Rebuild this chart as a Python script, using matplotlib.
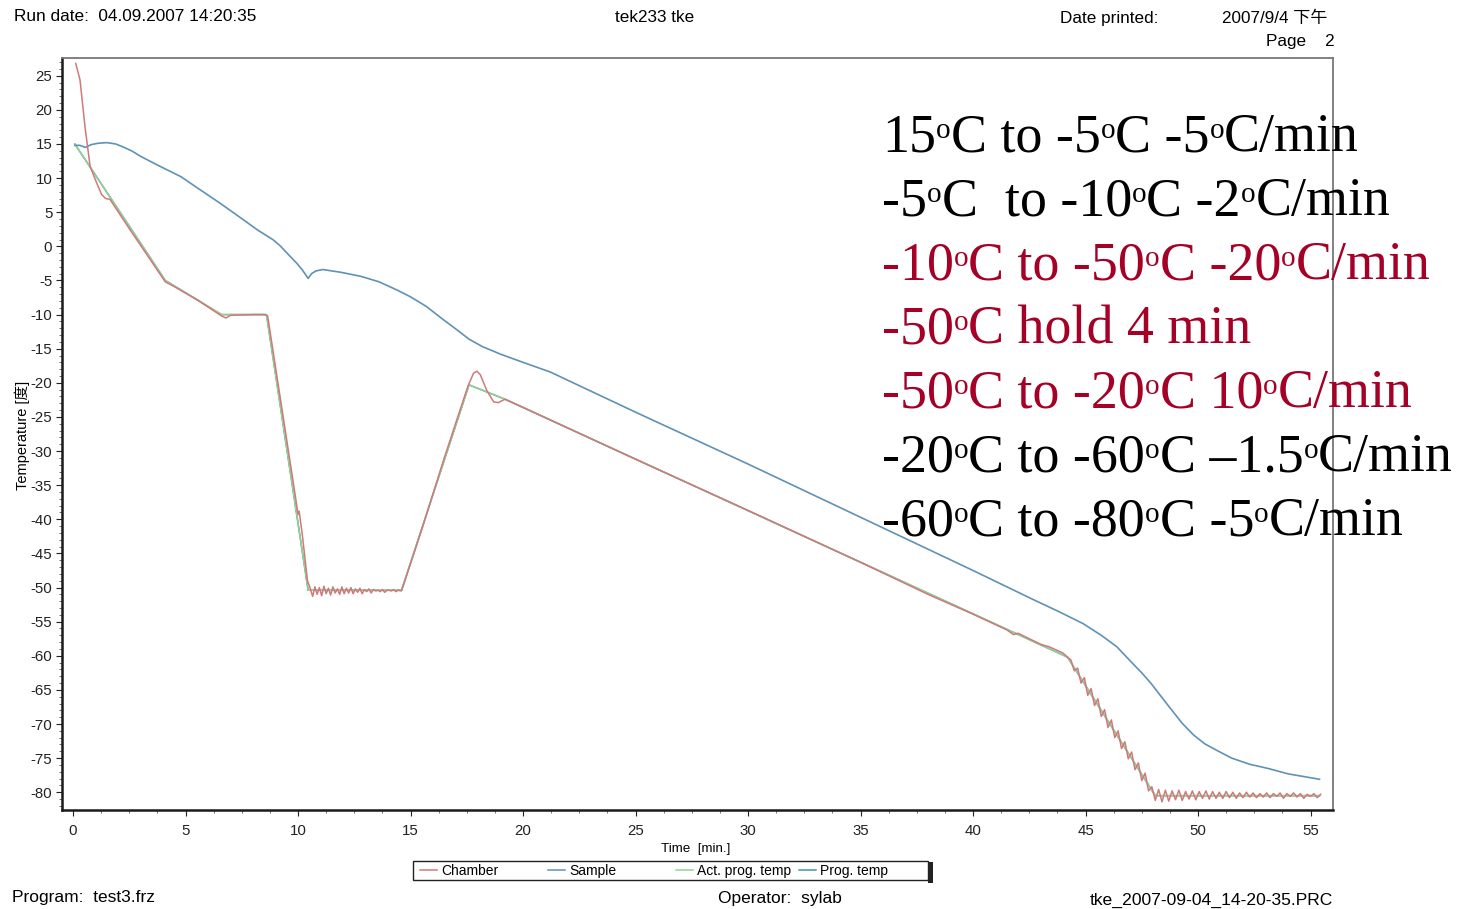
import numpy as np
import matplotlib
matplotlib.use("Agg")
import matplotlib.pyplot as plt
from matplotlib.ticker import MultipleLocator
from matplotlib.patches import Rectangle
from matplotlib.lines import Line2D

plt.rcParams['font.family'] = ['Liberation Sans', 'Noto Sans CJK SC', 'DejaVu Sans']
plt.rcParams['axes.unicode_minus'] = False

# ---------------- data ----------------
# Chamber temperature, by segments
ch_start_t = [0.12, 0.31, 0.53, 0.76, 1.05, 1.27, 1.45, 1.64, 2.5, 3.3, 4.1, 4.5, 5.5, 6.6, 6.8, 7.0, 8.0, 8.5, 8.65,
              9.2, 9.6, 9.9, 10.0, 10.05, 10.2, 10.42]
ch_start_T = [26.8, 24.4, 17.6, 11.7, 9.3, 7.6, 7.0, 6.9, 2.6, -1.3, -5.2, -5.9, -7.8, -10.2, -10.5, -10.1, -10.0, -10.0, -10.2,
              -22.0, -30.5, -37.0, -39.3, -38.8, -42.5, -49.0]
ch_hold1_t = [10.55, 10.65, 10.75, 10.85, 10.95, 11.05, 11.15, 11.25, 11.35, 11.45, 11.55, 11.65, 11.75, 11.85,
              11.95, 12.05, 12.15, 12.25, 12.35, 12.45, 12.55, 12.65, 12.75, 12.85, 12.95, 13.05, 13.15, 13.25,
              13.35, 13.45, 13.55, 13.65, 13.75, 13.85, 13.95, 14.05, 14.15, 14.25, 14.35, 14.45]
ch_hold1_T = [-50.2, -51.3, -49.9, -51.0, -50.0, -51.2, -49.8, -50.9, -50.1, -51.1, -49.9, -50.8, -50.2, -51.0,
              -49.9, -50.9, -50.1, -50.8, -50.0, -50.9, -50.2, -50.7, -50.1, -50.9, -50.3, -50.6, -50.2, -50.8,
              -50.3, -50.5, -50.4, -50.6, -50.3, -50.7, -50.4, -50.4, -50.5, -50.3, -50.6, -50.4]
ch_rise_t = [14.6, 15.5, 16.5, 17.55, 17.8, 17.95, 18.1, 18.4, 18.7, 18.9, 19.2, 20.0, 25.0, 30.0, 35.0, 38.0,
             40.0, 41.5, 41.8, 42.0, 43.0, 43.4, 44.0, 44.2]
ch_rise_T = [-50.5, -41.5, -31.0, -20.5, -18.6, -18.3, -18.8, -21.2, -22.8, -22.9, -22.4, -23.6, -31.2, -38.7, -46.3, -51.0,
             -53.9, -56.2, -56.9, -56.7, -58.3, -58.7, -59.6, -60.2]
ch_drop_t = [44.35, 44.50, 44.65, 44.80, 44.95, 45.10, 45.25, 45.40, 45.55, 45.70, 45.85, 46.00, 46.15, 46.30,
             46.45, 46.60, 46.75, 46.90, 47.05, 47.20, 47.35, 47.50, 47.65, 47.80, 47.95, 48.10]
ch_drop_T = [-60.6, -62.2, -61.8, -64.0, -63.2, -65.8, -64.8, -67.3, -66.3, -68.9, -67.9, -70.5, -69.4, -72.0,
             -71.0, -73.6, -72.6, -75.1, -74.1, -76.7, -75.7, -78.3, -77.2, -79.8, -79.2, -81.2]
ch_hold2_t = [48.25, 48.4, 48.55, 48.7, 48.85, 49.0, 49.15, 49.3, 49.45, 49.6, 49.75, 49.9, 50.05, 50.2, 50.35,
              50.5, 50.65, 50.8, 50.95, 51.1, 51.25, 51.4, 51.55, 51.7, 51.85, 52.0, 52.15, 52.3, 52.45, 52.6,
              52.75, 52.9, 53.05, 53.2, 53.35, 53.5, 53.65, 53.8, 53.95, 54.1, 54.25, 54.4, 54.55, 54.7, 54.85,
              55.0, 55.15, 55.3, 55.45]
ch_hold2_T = [-79.6, -81.4, -79.7, -81.3, -79.8, -81.1, -79.7, -81.2, -79.9, -81.0, -79.8, -81.1, -79.9, -80.9, -79.8,
              -81.0, -79.9, -80.9, -80.0, -80.9, -79.9, -80.8, -80.0, -80.9, -80.1, -80.8, -80.0, -80.7, -80.1, -80.8,
              -80.2, -80.7, -80.1, -80.8, -80.2, -80.6, -80.1, -80.9, -80.2, -80.6, -80.1, -80.7, -80.2, -80.9, -80.3,
              -80.6, -80.2, -80.8, -80.3]

# Sample temperature
sample_t = [0.08, 0.3, 0.55, 0.8, 1.1, 1.5, 1.9, 2.2, 2.6, 3.0, 3.7, 4.8, 5.6, 6.5, 7.4, 8.2, 8.9, 9.2, 9.6, 9.95,
            10.2, 10.45, 10.6, 10.8, 11.1, 11.9, 12.8, 13.6, 14.4, 15.0, 15.7, 16.4, 17.05, 17.6, 18.2, 19.0,
            20.0, 21.2, 25.0, 30.0, 35.0, 40.0, 42.7, 43.8, 44.9, 45.7, 46.4, 47.0, 47.5, 47.9, 48.3, 48.7,
            49.3, 49.8, 50.3, 50.8, 51.5, 52.3, 53.1, 54.0, 54.7, 55.4]
sample_T = [14.8, 14.8, 14.5, 14.9, 15.1, 15.2, 15.0, 14.6, 14.0, 13.2, 12.0, 10.2, 8.4, 6.4, 4.3, 2.4, 0.95, 0.1, -1.3, -2.5,
            -3.5, -4.7, -4.0, -3.6, -3.4, -3.8, -4.4, -5.2, -6.4, -7.4, -8.8, -10.6, -12.2, -13.6, -14.7, -15.8,
            -17.0, -18.4, -24.3, -31.9, -39.7, -47.5, -51.8, -53.5, -55.3, -57.0, -58.7, -60.8, -62.5, -64.0, -65.7, -67.4,
            -69.9, -71.6, -72.9, -73.8, -75.0, -75.9, -76.5, -77.3, -77.7, -78.1]

# Programmed temperature (actual / set)
prog_t = [0.08, 4.1, 6.6, 8.6, 10.45, 14.6, 17.6, 19.2, 44.2, 48.1, 55.4]
prog_T = [15.0, -5.0, -10.0, -10.0, -50.4, -50.4, -20.3, -22.4, -60.2, -80.5, -80.5]

x_ticks = [0, 5, 10, 15, 20, 25, 30, 35, 40, 45, 50, 55]
y_ticks = [25, 20, 15, 10, 5, 0, -5, -10, -15, -20, -25, -30, -35, -40, -45, -50, -55, -60, -65, -70, -75, -80]

# "°" marks where a small raised "o" is printed
notes = [
    ("15°C to -5°C -5°C/min", "black"),
    ("-5°C  to -10°C -2°C/min", "black"),
    ("-10°C to -50°C -20°C/min", "#a50026"),
    ("-50°C hold 4 min", "#a50026"),
    ("-50°C to -20°C 10°C/min", "#a50026"),
    ("-20°C to -60°C \u20131.5°C/min", "black"),
    ("-60°C to -80°C -5°C/min", "black"),
]
legend_labels = ['Chamber', 'Sample', 'Act. prog. temp', 'Prog. temp']

chamber_t = ch_start_t + ch_hold1_t + ch_rise_t + ch_drop_t + ch_hold2_t
chamber_T = ch_start_T + ch_hold1_T + ch_rise_T + ch_drop_T + ch_hold2_T

# ---------------- figure ----------------
W, H = 1461, 909
fig = plt.figure(figsize=(W / 100, H / 100), dpi=100)
ax = fig.add_axes([62 / W, 1 - 810 / H, (1333 - 62) / W, (810 - 58) / H])

c_ch = '#cf7a78'
c_sa = '#5e92b6'
c_act = '#95d195'
c_prog = '#3e93aa'
colors = [c_ch, c_sa, c_act, c_prog]

ax.plot(prog_t, prog_T, color=c_prog, lw=1.1, zorder=1)
ax.plot(prog_t, prog_T, color=c_act, lw=1.1, zorder=2)
ax.plot(sample_t, sample_T, color=c_sa, lw=1.2, zorder=3)
ax.plot(chamber_t, chamber_T, color=c_ch, lw=1.1, zorder=4)

ax.set_xlim(-0.49, 56.0)
ax.set_ylim(-82.6, 27.6)
ax.set_xticks(x_ticks)
ax.set_yticks(y_ticks)
ax.xaxis.set_minor_locator(MultipleLocator(1.25))
ax.yaxis.set_minor_locator(MultipleLocator(1))
ax.tick_params(axis='both', which='major', labelsize=10.8, length=4, width=0.8, colors='#222222')
ax.tick_params(axis='both', which='minor', length=2, width=0.6, colors='#555555')
ax.tick_params(axis='x', pad=6)
ax.tick_params(axis='y', pad=3)

for s in ['left', 'bottom']:
    ax.spines[s].set_linewidth(1.8)
    ax.spines[s].set_color('#1a1a1a')
for s in ['top', 'right']:
    ax.spines[s].set_linewidth(1.3)
    ax.spines[s].set_color('#777777')

fig.text(22 / W, 1 - 435 / H, 'Temperature [度]', rotation=90, ha='center', va='center', fontsize=10.5)
fig.text(696 / W, 1 - 852 / H, 'Time  [min.]', ha='center', va='baseline', fontsize=9.6)

# header / footer
fig.text(14 / W, 1 - 21 / H, 'Run date:  04.09.2007 14:20:35', ha='left', va='baseline', fontsize=12.4)
fig.text(655 / W, 1 - 22 / H, 'tek233 tke', ha='center', va='baseline', fontsize=12.3)
fig.text(1060 / W, 1 - 23 / H, 'Date printed:', ha='left', va='baseline', fontsize=12.3)
fig.text(1222 / W, 1 - 23 / H, '2007/9/4 下午', ha='left', va='baseline', fontsize=12.3)
fig.text(1335 / W, 1 - 46 / H, 'Page    2', ha='right', va='baseline', fontsize=12.3)
fig.text(12 / W, 1 - 902 / H, 'Program:  test3.frz', ha='left', va='baseline', fontsize=12.5)
fig.text(718 / W, 1 - 903 / H, 'Operator:  sylab', ha='left', va='baseline', fontsize=12.5)
fig.text(1090 / W, 1 - 905 / H, 'tke_2007-09-04_14-20-35.PRC', ha='left', va='baseline', fontsize=12.6)

# annotations with small raised "o"
renderer = fig.canvas.get_renderer()
fs_main = 38.8
fs_sup = 21
raise_px = 13
for i, (txt, col) in enumerate(notes):
    x_px = 882.0
    y_px = 151 + 64 * i
    parts = txt.split('°')
    for j, part in enumerate(parts):
        if part:
            t = fig.text(x_px / W, 1 - y_px / H, part, ha='left', va='baseline',
                         fontsize=fs_main, color=col, family='Liberation Serif')
            x_px += t.get_window_extent(renderer).width
        if j < len(parts) - 1:
            t = fig.text(x_px / W, 1 - (y_px - raise_px) / H, 'o', ha='left', va='baseline',
                         fontsize=fs_sup, color=col, family='Liberation Serif')
            x_px += t.get_window_extent(renderer).width

# legend (drawn as a boxed row like the original printout)
fig.patches.append(Rectangle((413 / W, 1 - 880 / H), (928 - 413) / W, 19 / H, transform=fig.transFigure,
                             facecolor='white', edgecolor='#222222', linewidth=1.0))
fig.patches.append(Rectangle((928 / W, 1 - 883 / H), 5 / W, 21 / H, transform=fig.transFigure,
                             facecolor='#222222', edgecolor='none'))
key_x = [420, 548, 676, 799]
for kx, lab, col in zip(key_x, legend_labels, colors):
    fig.lines.append(Line2D([kx / W, (kx + 17) / W], [1 - 870 / H, 1 - 870 / H], transform=fig.transFigure,
                            color=col, lw=1.1))
    fig.text((kx + 21) / W, 1 - 875 / H, lab, ha='left', va='baseline', fontsize=10)

fig.savefig('out.png', dpi=100, facecolor='white')
